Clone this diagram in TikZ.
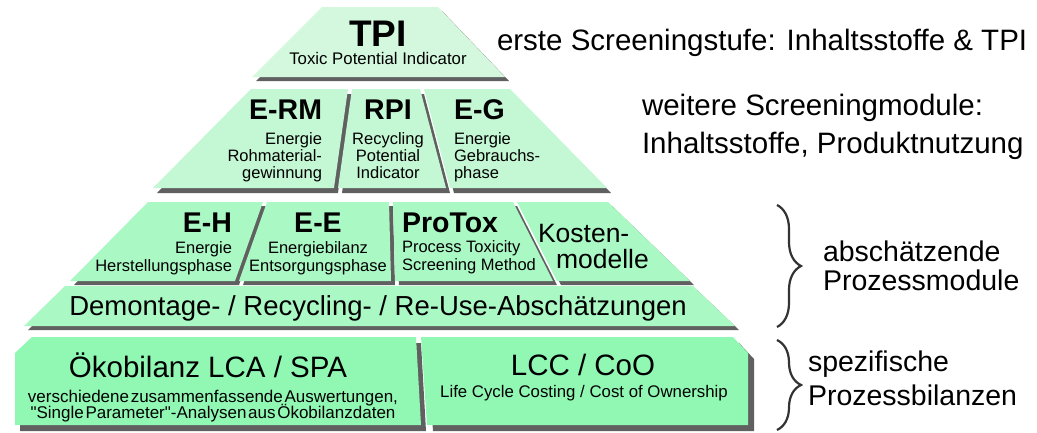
\documentclass[tikz,border=0pt]{standalone}
\usepackage{fontspec}
\setmainfont{Liberation Sans}[Ligatures=TeXOff]
\usetikzlibrary{decorations.pathreplacing}

\definecolor{shadowgray}{HTML}{606060}
\definecolor{tierA}{HTML}{D4F8DD}
\definecolor{tierB}{HTML}{C4F7D3}
\definecolor{tierC}{HTML}{AAF8C4}
\definecolor{tierD}{HTML}{90F8B3}

% a pyramid slab: drop shadow first, then the coloured face
\newcommand\pyrslab[3]{\fill[shadowgray,shift={(#3)}] #2; \fill[#1] #2;}
\newcommand\pyrfs[1]{\fontsize{#1}{#1}\selectfont}
\newcommand\tightwords{\spaceskip=0.1em\relax}

\begin{document}
\begin{tikzpicture}[x=1pt,y=-1pt,
  lab/.style={inner sep=0pt, outer sep=0pt, text=black},
  head/.style={lab, font=\pyrfs{28.5}\bfseries},
  small/.style={lab, font=\pyrfs{16.5}},
  big/.style={lab, font=\pyrfs{29.5}},
  side/.style={lab, font=\pyrfs{28.5}},
  bracec/.style={decorate, decoration={brace, amplitude=24pt, aspect=0.5},
                 line width=2.2pt, draw=black!80}
]
\useasboundingbox (0,0) rectangle (1037,432);

% tier 1
\pyrslab{tierA}{(322,7) -- (438,7) -- (505,77) -- (252,77) -- cycle}{4,4}
% tier 2
\pyrslab{tierB}{(251,89) -- (348,89) -- (334,188) -- (153,188) -- cycle}{4,5}
\pyrslab{tierB}{(352,89) -- (420,89) -- (446,188) -- (338,188) -- cycle}{4,5}
\pyrslab{tierB}{(424,89) -- (510,89) -- (607,188) -- (450,188) -- cycle}{4,5}
% tier 3
\pyrslab{tierC}{(148,202) -- (263,202) -- (235,281) -- (70,281) -- cycle}{4,4}
\pyrslab{tierC}{(267,202) -- (389,202) -- (391,281) -- (239,281) -- cycle}{4,4}
\pyrslab{tierC}{(393,202) -- (513,202) -- (553,281) -- (395,281) -- cycle}{4,4}
\pyrslab{tierC}{(517,202) -- (608,202) -- (690,281) -- (557,281) -- cycle}{4,4}
% tier 4
\pyrslab{tierC}{(65,286) -- (693,286) -- (735,326) -- (24,326) -- cycle}{4,4}
% tier 5
\pyrslab{tierD}{(15,353) -- (32,337) -- (416,337) -- (421,425) -- (15,425) -- cycle}{5,6}
\pyrslab{tierD}{(421,337) -- (733,337) -- (748,353) -- (748,425) -- (427,425) -- cycle}{6,6}

% tier 1 labels
\node[lab, font=\pyrfs{37}\bfseries, anchor=base] (tpiT) at (378,46) {TPI};
\node[lab, font=\pyrfs{16.8}, anchor=base] (tpiA) at (378,64) {Toxic Potential Indicator};

% tier 2 labels
\node[head, anchor=base east] (ermT) at (322,119) {E-RM};
\node[small, anchor=base east] (ermA) at (322,144) {Energie};
\node[small, anchor=base east] (ermB) at (322,161) {Rohmaterial-};
\node[small, anchor=base east] (ermC) at (322,178) {gewinnung};
\node[head, anchor=base] (rpiT) at (388,119) {RPI};
\node[small, anchor=base] (rpiA) at (388,144) {Recycling};
\node[small, anchor=base] (rpiB) at (388,161) {Potential};
\node[small, anchor=base] (rpiC) at (388,178) {Indicator};
\node[head, anchor=base west] (egT) at (454,119) {E-G};
\node[small, anchor=base west] (egA) at (454,144) {Energie};
\node[small, anchor=base west] (egB) at (454,161) {Gebrauchs-};
\node[small, anchor=base west] (egC) at (454,178) {phase};

% tier 3 labels
\node[head, anchor=base east] (ehT) at (232,232) {E-H};
\node[small, anchor=base east] (ehA) at (232,253) {Energie};
\node[small, anchor=base east] (ehB) at (232,271) {Herstellungsphase};
\node[head, anchor=base] (eeT) at (318,232) {E-E};
\node[small, anchor=base] (eeA) at (318,253) {Energiebilanz};
\node[small, anchor=base] (eeB) at (318,271) {Entsorgungsphase};
\node[head, anchor=base west] (ptT) at (402,232) {ProTox};
\node[small, anchor=base west] (ptA) at (402,252) {Process Toxicity};
\node[small, anchor=base west] (ptB) at (402,270) {Screening Method};
\node[lab, font=\pyrfs{26.5}, anchor=base west] (koA) at (538,242) {Kosten-};
\node[lab, font=\pyrfs{26.5}, anchor=base west] (koB) at (556,268) {modelle};

% tier 4 label
\node[lab, font=\pyrfs{27.5}, anchor=base] (demo) at (378,315)
  {Demontage- / Recycling- / Re-Use-Abschätzungen};

% tier 5 labels
\node[big, anchor=base] (lcaT) at (208,377) {Ökobilanz LCA / SPA};
\node[lab, font=\pyrfs{17}, anchor=base] (lcaA) at (213,402)
  {\tightwords verschiedene zusammenfassende Auswertungen,};
\node[lab, font=\pyrfs{17}, anchor=base] (lcaB) at (213,418)
  {\tightwords "Single Parameter"-Analysen aus Ökobilanzdaten};
\node[big, anchor=base] (lccT) at (583,375) {LCC / CoO};
\node[lab, font=\pyrfs{16.8}, anchor=base] (lccA) at (584,397)
  {Life Cycle Costing / Cost of Ownership};

% side annotations
\node[lab, font=\pyrfs{29.5}, anchor=base west] (s1) at (497,50)
  {erste Screeningstufe: Inhaltsstoffe \& TPI};
\node[lab, font=\pyrfs{29.5}, anchor=base west] (s2a) at (642,115)
  {weitere Screeningmodule:};
\node[lab, font=\pyrfs{29.5}, anchor=base west] (s2b) at (642,153)
  {Inhaltsstoffe, Produktnutzung};

\coordinate (b1top) at (777,205);
\coordinate (b1bot) at (777,327);
\coordinate (b2top) at (777,340);
\coordinate (b2bot) at (777,430);
\draw[bracec] (b1top) -- (b1bot);
\draw[bracec] (b2top) -- (b2bot);

\node[side, anchor=base west] (s3a) at (823,261) {abschätzende};
\node[side, anchor=base west] (s3b) at (823,290) {Prozessmodule};
\node[side, anchor=base west] (s4a) at (808,371) {spezifische};
\node[side, anchor=base west] (s4b) at (808,405) {Prozessbilanzen};
\end{tikzpicture}
\end{document}
